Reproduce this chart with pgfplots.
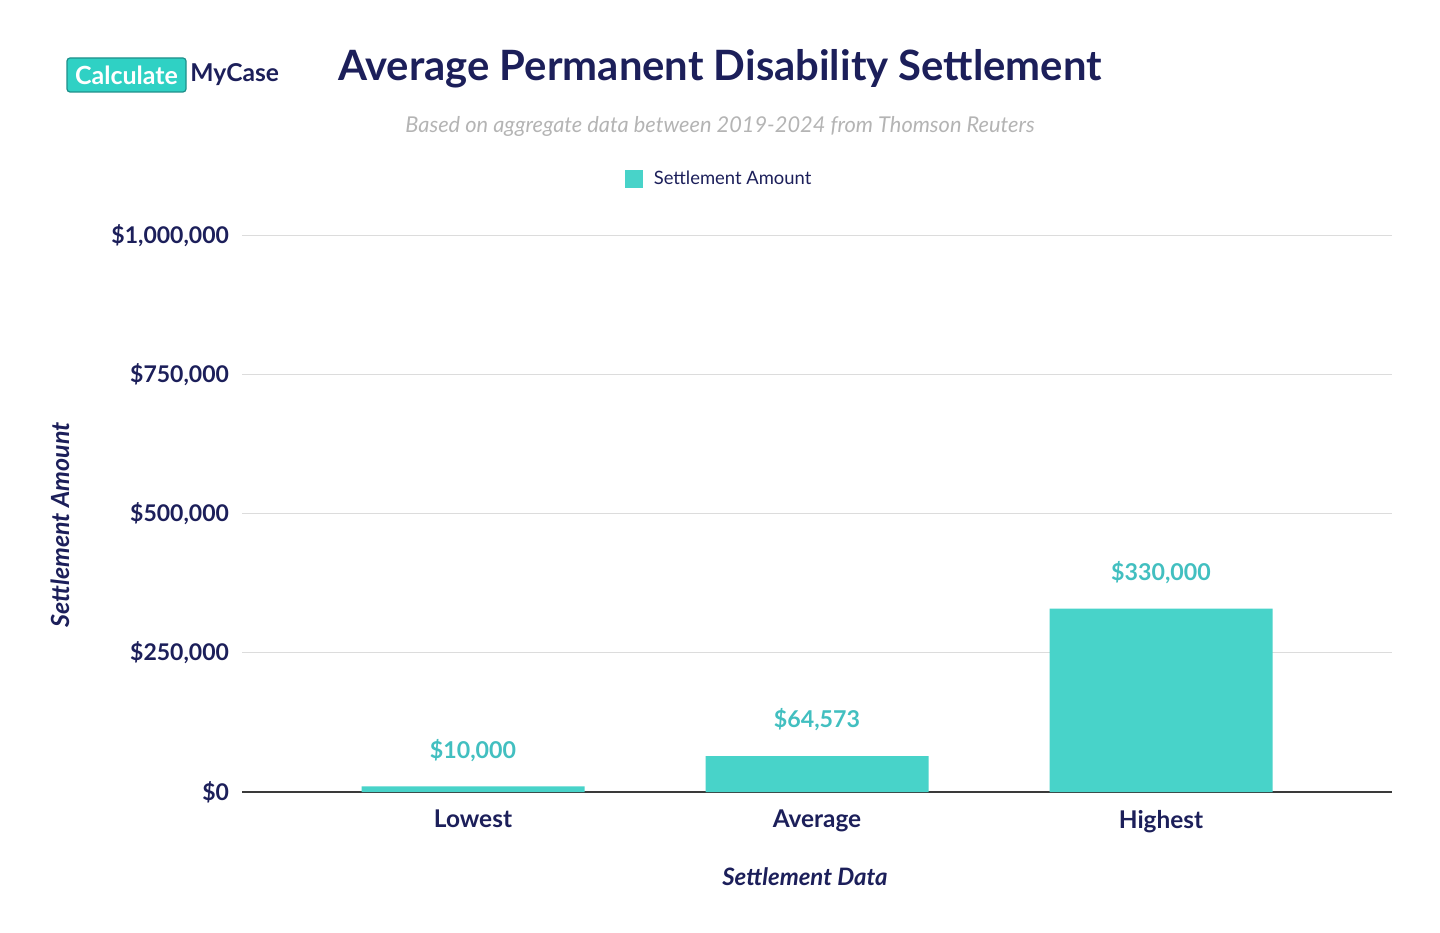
\documentclass[border=0pt]{standalone}
\usepackage{pgfplots}
\pgfplotsset{compat=1.18}
\usepackage{fontspec}
\setmainfont{Lato}
\definecolor{navy}{HTML}{1C1F5A}
\definecolor{barteal}{HTML}{48D3C9}
\definecolor{valteal}{HTML}{42BFC0}
\definecolor{subgray}{HTML}{B4B4B4}
\definecolor{gridgray}{HTML}{DCDCDC}
\definecolor{axisgray}{HTML}{3A3A3A}
\definecolor{logoteal}{HTML}{2FD1C4}
\definecolor{logoedge}{HTML}{1E8F8A}
\pgfkeys{/pgf/number format/.cd, fixed, precision=0, 1000 sep={,}, assume math mode=true}
\begin{document}
\begin{tikzpicture}[x=1pt,y=1pt]
\path[use as bounding box] (0,0) rectangle (720,466);
\begin{axis}[
  at={(121pt,70pt)}, anchor=south west, scale only axis,
  width=575pt, height=278pt,
  xmin=-0.6715, xmax=2.6715, ymin=0, ymax=1000000,
  ybar, bar width=111.5pt, bar shift=0pt,
  xtick={0,1,2}, xticklabels={Lowest,Average,Highest},
  ytick={0,250000,500000,750000,1000000},
  scaled y ticks=false,
  yticklabel={\$\pgfmathprintnumber{\tick}},
  axis x line=bottom, axis y line=left,
  x axis line style={draw=axisgray, line width=0.6pt, -},
  y axis line style={draw=none},
  major tick length=0pt,
  ymajorgrids, grid style={gridgray, line width=0.5pt},
  ticklabel style={font=\fontsize{11.5}{13}\selectfont\bfseries, text=navy},
  yticklabel style={xshift=-3pt},
  xticklabel style={yshift=-5.5pt, font=\fontsize{12.2}{14}\selectfont\bfseries},
  nodes near coords={\$\pgfmathprintnumber{\pgfplotspointmeta}},
  nodes near coords style={font=\fontsize{11.6}{14}\selectfont\bfseries, text=valteal, yshift=9pt},
  legend style={at={(0.4157,1.1025)}, anchor=center, draw=none, fill=none,
    font=\fontsize{9.2}{11}\selectfont, text=navy,
    /tikz/every odd column/.append style={column sep=3.5pt}},
  legend image code/.code={\fill[barteal] (0pt,-4.5pt) rectangle (9pt,4.5pt);},
]
\addplot[fill=barteal, draw=none] coordinates {(0,10000) (1,64573) (2,330000)};
\addlegendentry{Settlement Amount}
\end{axis}
% title and subtitle
\node[font=\fontsize{20.9}{24}\selectfont\bfseries, text=navy] at (360,431.5) {Average Permanent Disability Settlement};
\node[font=\fontsize{10.9}{12}\selectfont\itshape, text=subgray] at (360,403) {Based on aggregate data between 2019-2024 from Thomson Reuters};
% logo
\node[fill=logoteal, draw=logoedge, line width=0.6pt, rounded corners=1.5pt, text=white,
  font=\fontsize{12.5}{14}\selectfont\bfseries, minimum width=59.5pt, minimum height=17pt, inner sep=1pt] at (63.25,428.5) {Calculate};
\node[anchor=west, font=\fontsize{12.3}{14}\selectfont\bfseries, text=navy, inner sep=0pt] at (95,428.5) {MyCase};
% axis titles
\node[font=\fontsize{12}{14}\selectfont\bfseries\itshape, text=navy] at (402.5,27.5) {Settlement Data};
\node[font=\fontsize{12.5}{14}\selectfont\bfseries\itshape, text=navy, rotate=90] at (30,203.5) {Settlement Amount};
\end{tikzpicture}
\end{document}
